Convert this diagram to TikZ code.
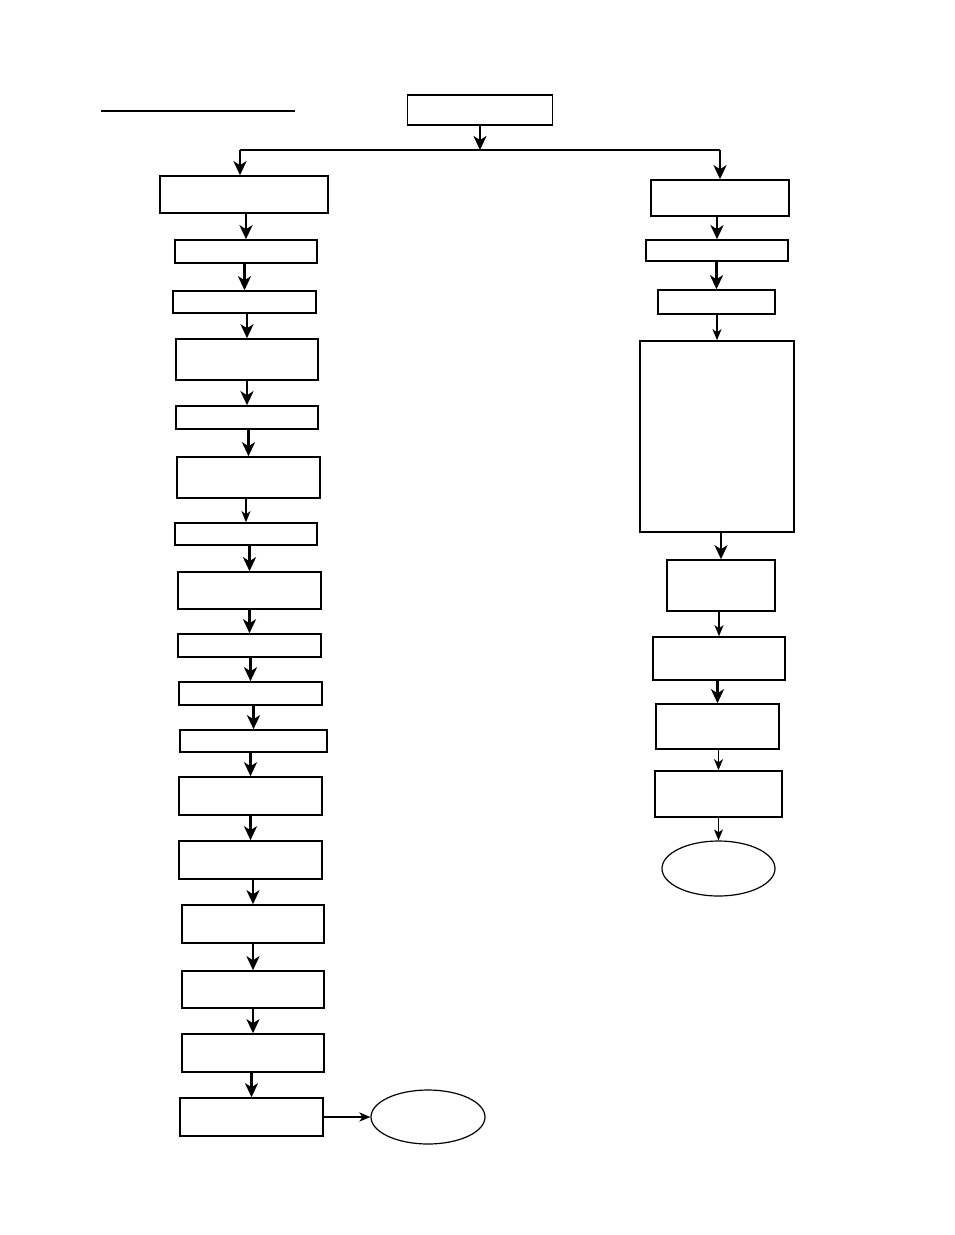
\documentclass[tikz,border=0pt]{standalone}
\usetikzlibrary{arrows.meta,shapes.geometric}
\begin{document}
\begin{tikzpicture}[x=1pt,y=-1pt,
  box/.style={draw,line width=1.6pt,inner sep=0pt},
  oval/.style={draw,ellipse,line width=1.2pt,inner sep=0pt},
  arr/.style={line width=2.6pt,-{Stealth[length=14pt,width=13pt,inset=4pt]}},
  thinarr/.style={line width=1.4pt,-{Stealth[length=11pt,width=9pt,inset=3pt]}}]
  \useasboundingbox (0,0) rectangle (954,1235);
  % heading rule
  \coordinate (ul) at (101,111);
  \coordinate (ur) at (295,111);
  \draw[line width=2.8pt] (ul) -- (ur);
  % top box and fork
  \node[box,minimum width=145pt,minimum height=30pt] (top) at (480,110) {};
  \coordinate (fork) at (480,150);
  % left column
  \node[box,minimum width=168pt,minimum height=37pt] (l1) at (244,194.5) {};
  \node[box,minimum width=142pt,minimum height=23pt] (l2) at (246,251.5) {};
  \node[box,minimum width=143pt,minimum height=22pt] (l3) at (244.5,302) {};
  \node[box,minimum width=142pt,minimum height=41pt] (l4) at (247,359.5) {};
  \node[box,minimum width=142pt,minimum height=23pt] (l5) at (247,417.5) {};
  \node[box,minimum width=143pt,minimum height=41pt] (l6) at (248.5,477.5) {};
  \node[box,minimum width=142pt,minimum height=22pt] (l7) at (246,534) {};
  \node[box,minimum width=143pt,minimum height=37pt] (l8) at (249.5,590.5) {};
  \node[box,minimum width=143pt,minimum height=23pt] (l9) at (249.5,645.5) {};
  \node[box,minimum width=143pt,minimum height=23pt] (l10) at (250.5,693.5) {};
  \node[box,minimum width=147pt,minimum height=22pt] (l11) at (253.5,741) {};
  \node[box,minimum width=143pt,minimum height=38pt] (l12) at (250.5,796) {};
  \node[box,minimum width=143pt,minimum height=38pt] (l13) at (250.5,860) {};
  \node[box,minimum width=142pt,minimum height=38pt] (l14) at (253,924) {};
  \node[box,minimum width=142pt,minimum height=37pt] (l15) at (253,989.5) {};
  \node[box,minimum width=142pt,minimum height=38pt] (l16) at (253,1053) {};
  \node[box,minimum width=143pt,minimum height=38pt] (l17) at (251.5,1117) {};
  \node[oval,minimum width=114pt,minimum height=54pt] (lend) at (428,1117) {};
  % right column
  \node[box,minimum width=138pt,minimum height=36pt] (r1) at (720,198) {};
  \node[box,minimum width=142pt,minimum height=21pt] (r2) at (717,250.5) {};
  \node[box,minimum width=117pt,minimum height=24pt] (r3) at (716.5,302) {};
  \node[box,minimum width=154pt,minimum height=191pt] (r4) at (717,436.5) {};
  \node[box,minimum width=108pt,minimum height=51pt] (r5) at (721,585.5) {};
  \node[box,minimum width=132pt,minimum height=43pt] (r6) at (719,658.5) {};
  \node[box,minimum width=123pt,minimum height=45pt] (r7) at (717.5,726.5) {};
  \node[box,minimum width=127pt,minimum height=46pt] (r8) at (718.5,794) {};
  \node[oval,minimum width=113pt,minimum height=55pt] (rend) at (718.5,868.5) {};
  % connectors
  \draw[arr] (top) -- (fork);
  \draw[line width=2.4pt] (fork) -- (240,150) coordinate (fl) (fork) -- (720,150) coordinate (fr);
  \draw[arr] (fl) -- (fl |- l1.north);
  \draw[arr] (fr) -- (fr |- r1.north);
  \foreach \a/\b in {l1/l2,l2/l3,l3/l4,l4/l5,l5/l6,l7/l8,l8/l9,l9/l10,l10/l11,
                     l11/l12,l12/l13,l13/l14,l14/l15,l15/l16,l16/l17,
                     r1/r2,r2/r3,r4/r5,r6/r7}
    \draw[arr] (\b.north |- \a.south) -- (\b.north);
  \foreach \a/\b in {l6/l7,r3/r4,r5/r6,r7/r8,r8/rend}
    \draw[thinarr] (\b.north |- \a.south) -- (\b.north);
  \draw[line width=2pt,-{Stealth[length=11pt,width=9pt,inset=3pt]}] (l17) -- (lend);
\end{tikzpicture}
\end{document}
